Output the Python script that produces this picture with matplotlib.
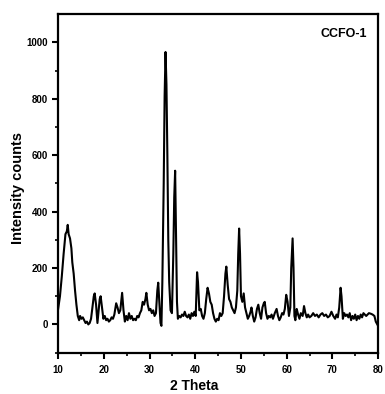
import numpy as np
import matplotlib.pyplot as plt

plt.rcParams['font.family'] = ['Liberation Sans', 'DejaVu Sans']

# data
two_theta = [10.0, 10.4, 10.8, 11.2, 11.6, 11.9, 12.1, 12.3, 12.6, 12.9, 13.1, 13.4, 13.7, 14.0,
             14.3, 14.6, 14.8, 15.1, 15.4, 15.7, 16.0, 16.3, 16.6, 16.9, 17.2, 17.5, 17.8, 18.0,
             18.3, 18.6, 18.8, 19.1, 19.3, 19.6, 19.9, 20.2, 20.5, 20.8, 21.1, 21.4, 21.7, 22.0,
             22.3, 22.7, 23.0, 23.3, 23.6, 24.0, 24.3, 24.6, 24.9, 25.2, 25.5, 25.8, 26.1, 26.4,
             26.7, 27.0, 27.3, 27.6, 27.9, 28.2, 28.5, 28.8, 29.1, 29.3, 29.6, 29.9, 30.2, 30.5,
             30.8, 31.1, 31.4, 31.7, 31.9, 32.2, 32.4, 32.6, 32.8, 33.1, 33.3, 33.5, 33.7, 33.9,
             34.1, 34.3, 34.6, 34.9, 35.2, 35.4, 35.6, 35.8, 36.0, 36.2, 36.5, 36.8, 37.1, 37.4,
             37.7, 38.0, 38.3, 38.6, 38.9, 39.2, 39.5, 39.8, 40.1, 40.4, 40.6, 40.9, 41.2, 41.5,
             41.8, 42.1, 42.4, 42.7, 43.0, 43.3, 43.6, 43.9, 44.2, 44.5, 44.8, 45.1, 45.4, 45.7,
             46.0, 46.3, 46.6, 46.8, 47.1, 47.4, 47.7, 48.0, 48.3, 48.6, 48.9, 49.2, 49.4, 49.6,
             49.8, 50.0, 50.3, 50.6, 50.9, 51.2, 51.5, 51.8, 52.1, 52.3, 52.6, 52.9, 53.2, 53.5,
             53.8, 54.1, 54.4, 54.7, 55.0, 55.2, 55.5, 55.8, 56.1, 56.4, 56.7, 57.0, 57.4, 57.8,
             58.1, 58.4, 58.7, 59.0, 59.3, 59.6, 59.9, 60.2, 60.5, 60.8, 61.0, 61.3, 61.5, 61.7,
             61.9, 62.2, 62.5, 62.8, 63.1, 63.5, 63.8, 64.1, 64.4, 64.7, 65.0, 65.4, 65.8, 66.2,
             66.6, 67.0, 67.4, 67.8, 68.2, 68.6, 69.0, 69.4, 69.8, 70.2, 70.6, 70.9, 71.2, 71.5,
             71.8, 72.0, 72.3, 72.6, 72.9, 73.2, 73.5, 73.8, 74.1, 74.4, 74.7, 75.0, 75.3, 75.6,
             75.9, 76.2, 76.5, 76.8, 77.1, 77.4, 77.7, 78.0, 78.4, 78.8, 79.2, 79.5, 80.0]
intensity = [55, 100, 170, 250, 320, 330, 353, 320, 305, 270, 220, 180, 120, 70,
             30, 15, 30, 20, 25, 15, 5, 10, 0, 5, 20, 60, 100, 110,
             70, 5, 40, 90, 100, 60, 20, 30, 15, 20, 10, 15, 25, 20,
             35, 75, 60, 40, 50, 112, 50, 10, 30, 15, 40, 20, 30, 15,
             20, 15, 30, 25, 40, 50, 80, 70, 90, 112, 70, 50, 55, 40,
             50, 30, 40, 120, 148, 60, 5, -5, 150, 500, 810, 966, 850, 600,
             300, 150, 50, 40, 250, 450, 545, 300, 80, 20, 30, 25, 35, 30,
             45, 30, 25, 35, 20, 40, 30, 45, 30, 185, 150, 50, 55, 30,
             20, 40, 90, 130, 110, 80, 70, 40, 20, 10, 20, 15, 40, 30,
             40, 100, 180, 205, 140, 90, 80, 60, 50, 40, 60, 120, 250, 340,
             250, 100, 80, 110, 60, 40, 20, 30, 45, 60, 30, 10, 25, 55,
             70, 40, 20, 60, 75, 80, 40, 20, 30, 25, 35, 20, 40, 55,
             30, 15, 25, 40, 35, 55, 105, 80, 30, 60, 200, 305, 200, 30,
             15, 55, 35, 20, 40, 30, 65, 40, 25, 35, 25, 30, 40, 30,
             35, 25, 35, 40, 30, 35, 25, 30, 45, 30, 20, 35, 25, 60,
             130, 100, 20, 40, 30, 35, 25, 40, 15, 30, 20, 35, 15, 30,
             20, 35, 25, 40, 35, 30, 35, 40, 38, 35, 30, 10, -5]

fig = plt.figure(figsize=(3.85, 3.94), dpi=100)
ax = fig.add_axes([0.151, 0.105, 0.831, 0.859])

ax.plot(two_theta, intensity, color='black', linewidth=1.5)

ax.set_xlim(10, 80)
ax.set_ylim(-100, 1100)
ax.set_xticks(np.arange(10, 81, 10))
ax.set_xticks(np.arange(15, 80, 10), minor=True)
ax.set_yticks(np.arange(0, 1001, 200))
ax.set_yticks(np.arange(-100, 1100, 200), minor=True)
ax.tick_params(axis='both', which='major', direction='out', length=4, width=1.5,
               labelsize=7, top=False, right=False)
ax.tick_params(axis='x', which='major', pad=5)
ax.tick_params(axis='both', which='minor', direction='out', length=2.5, width=1.2,
               top=False, right=False)
for lab in ax.get_xticklabels() + ax.get_yticklabels():
    lab.set_fontweight('bold')
for sp in ax.spines.values():
    sp.set_linewidth(1.6)

# axis titles placed where they sit in the original
fig.text(194 / 385, 1 - 386 / 394, '2 Theta', ha='center', va='center',
         fontsize=10, fontweight='bold')
fig.text(18 / 385, 1 - 188 / 394, 'Intensity counts', ha='center', va='center',
         rotation=90, fontsize=10.5, fontweight='bold')
fig.text(344 / 385, 1 - 34 / 394, 'CCFO-1', ha='center', va='center',
         fontsize=9, fontweight='bold')

plt.savefig('out.png', dpi=100)
